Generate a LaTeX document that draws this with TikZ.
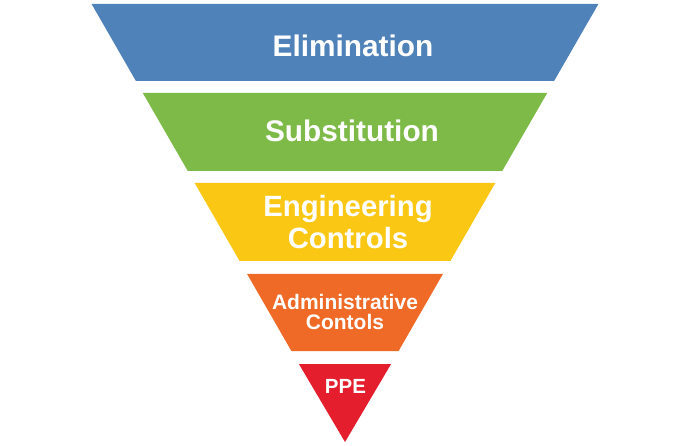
\documentclass[tikz,border=0pt]{standalone}
\usepackage{fontspec}
\setmainfont{Liberation Sans}
\definecolor{cBlue}{HTML}{4F82B9}
\definecolor{cGreen}{HTML}{7EBA48}
\definecolor{cYellow}{HTML}{FAC814}
\definecolor{cOrange}{HTML}{EE6A26}
\definecolor{cRed}{HTML}{E41E2D}
\tikzset{
  lbl/.style={text=white, font=\bfseries, align=center, anchor=base, inner sep=0pt},
  big/.style={lbl, font=\bfseries\fontsize{29.8}{32}\selectfont},
  mid/.style={lbl, font=\bfseries\fontsize{21}{20.5}\selectfont},
}
\begin{document}
\begin{tikzpicture}[x=1pt,y=-1pt]
\useasboundingbox (0,0) rectangle (696,446);
\fill[cBlue]   (91.6,4)  -- (598.4,4)  -- (554.1,81)  -- (135.9,81)  -- cycle;
\fill[cGreen]  (142.8,93) -- (547.2,93) -- (502.2,171) -- (187.8,171) -- cycle;
\fill[cYellow] (194.7,183) -- (495.3,183) -- (450.4,261) -- (239.6,261) -- cycle;
\fill[cOrange] (247.1,274) -- (442.9,274) -- (398.6,351) -- (291.4,351) -- cycle;
\fill[cRed]    (298.9,364) -- (391.1,364) -- (345,442) -- cycle;
\node[big] (elim) at (353,57) {Elimination};
\node[big] (subs) at (352,142) {Substitution};
\node[big, font=\bfseries\fontsize{29.3}{32}\selectfont] (eng) at (348,249) {Engineering\\Controls};
\node[mid] (adm) at (345,330) {Administrative\\Contols};
\node[mid, font=\bfseries\fontsize{20.5}{20.5}\selectfont] (ppe) at (345.5,393) {PPE};
\end{tikzpicture}
\end{document}
